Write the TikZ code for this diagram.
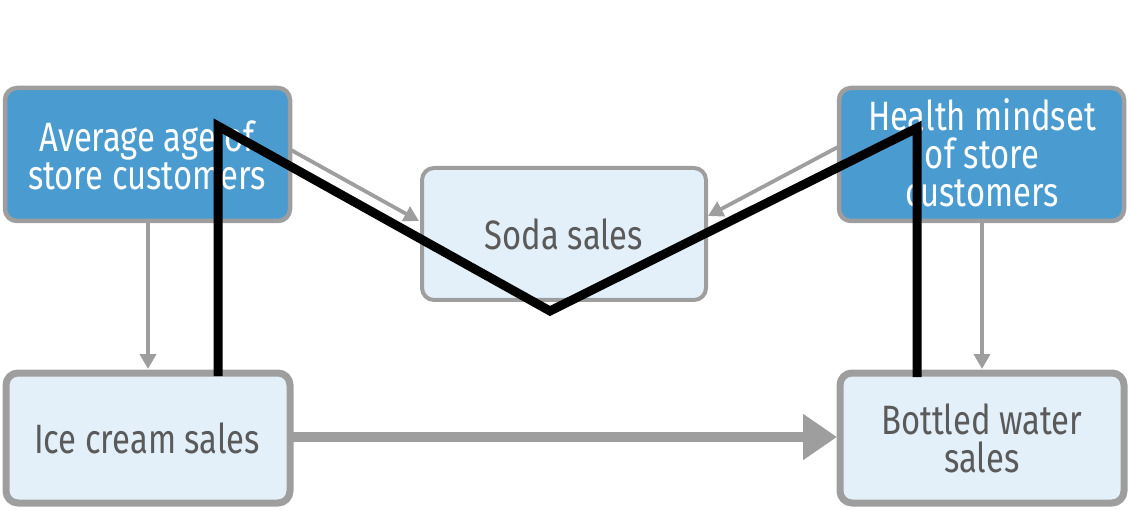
\documentclass[tikz,border=0pt]{standalone}
\usepackage{fontspec}
\setmainfont{Fira Sans}[FakeStretch=0.8]
\usetikzlibrary{arrows.meta}
\definecolor{dblue}{HTML}{4A9BD0}
\definecolor{lblue}{HTML}{E3F0F9}
\definecolor{bgray}{HTML}{9E9E9E}
\definecolor{tgray}{HTML}{5A5A5A}
\begin{document}
\begin{tikzpicture}[x=1pt,y=-1pt,
  dark/.style={draw=bgray,line width=4.5pt,fill=dblue,rounded corners=12pt,text=white},
  light/.style={draw=bgray,line width=4pt,fill=lblue,rounded corners=12pt,text=tgray},
  lightb/.style={draw=bgray,line width=7pt,fill=lblue,rounded corners=12pt,text=tgray},
  lbl/.style={font=\fontsize{41}{38}\selectfont,align=center},
  thin/.style={draw=bgray,line width=3.8pt,-{Triangle[length=15pt,width=16pt]}},
  thick/.style={draw=bgray,line width=10pt,-{Triangle[length=34pt,width=44pt]}},
  blk/.style={draw=black,line width=9pt,line join=miter}]
\useasboundingbox (0,0) rectangle (1129,510);
\draw[dark] (5,88) rectangle (290,221);
\draw[dark] (839,88) rectangle (1124,221);
\draw[light] (422,168) rectangle (706,300);
\draw[lightb] (6,373) rectangle (290,503);
\draw[lightb] (840,373) rectangle (1124,503);
\node[lbl,text=white] (age) at (147,155) {Average age of\\store customers};
\node[lbl,text=white] (health) at (982,153) {Health mindset\\of store\\customers};
\node[lbl,text=tgray] (soda) at (564,234) {Soda sales};
\node[lbl,text=tgray] (ice) at (147,438) {Ice cream sales};
\node[lbl,text=tgray] (water) at (982,438) {Bottled water\\sales};
\coordinate (a1) at (291,150); \coordinate (s1) at (419,221);
\coordinate (h1) at (838,147); \coordinate (s2) at (708,216);
\coordinate (a2) at (148,223); \coordinate (i1) at (148,369);
\coordinate (h2) at (982,223); \coordinate (w1) at (982,369);
\coordinate (i2) at (293,437); \coordinate (w2) at (837,437);
\draw[thin] (a1) -- (s1);
\draw[thin] (h1) -- (s2);
\draw[thin] (a2) -- (i1);
\draw[thin] (h2) -- (w1);
\draw[thick] (i2) -- (w2);
\coordinate (b1) at (218,376); \coordinate (b2) at (218,126);
\coordinate (b3) at (550,311); \coordinate (b4) at (917,128);
\coordinate (b5) at (917,377);
\draw[blk] (b1) -- (b2) -- (b3) -- (b4) -- (b5);
\end{tikzpicture}
\end{document}
